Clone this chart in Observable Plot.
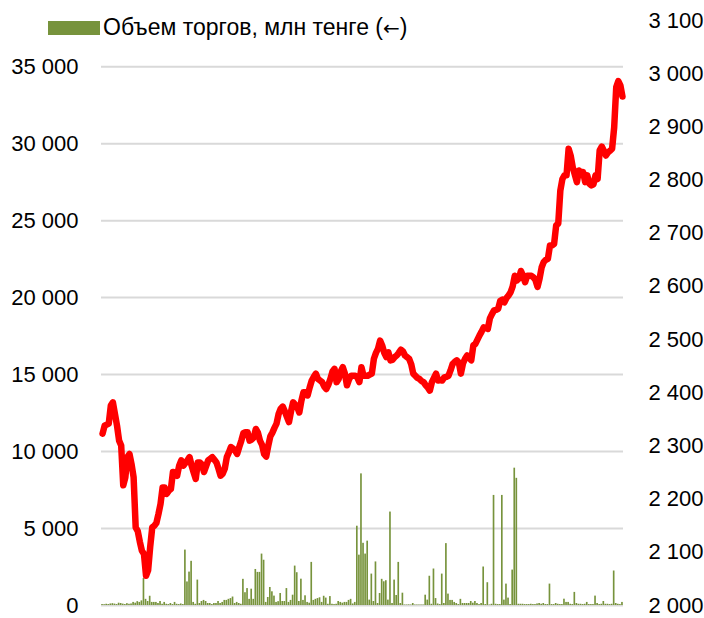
<!DOCTYPE html>
<html><head><meta charset="utf-8">
<script src="https://cdn.jsdelivr.net/npm/d3@7"></script>
<script src="https://cdn.jsdelivr.net/npm/@observablehq/plot@0.6"></script>
<style>
body{margin:0;background:#fff;}
#wrap{position:relative;width:704px;height:618px;font-family:"Liberation Sans",Arial,sans-serif;}
#legend{position:absolute;left:48px;top:14px;display:flex;align-items:center;font-size:23px;color:#000;white-space:nowrap;}
#legend .sw{display:inline-block;width:52px;height:14px;background:#77933c;margin-right:3px;}
#legend .arr{font-family:"DejaVu Sans",sans-serif;font-size:20px;}
</style></head><body>
<div id="wrap"><div id="legend"><span class="sw"></span><span>Объем торгов, млн тенге (<span class="arr">←</span>)</span></div></div>
<script>
// Trading volume, mln tenge (left axis), one bar per trading day
const volume = [
60,50,80,60,100,120,90,60,150,130,90,60,120,80,100,200,150,250,200,300,
1750,400,260,600,200,200,200,130,260,80,
200,80,60,130,60,200,80,60,100,60,
3600,1530,2170,2870,200,80,1650,130,260,330,
260,130,130,60,130,130,260,130,200,330,
330,400,450,550,130,200,130,80,1700,830,
1100,400,1060,400,2340,2150,2150,3340,2940,200,
520,1170,890,610,200,250,780,260,260,1100,
200,330,670,2560,2130,260,1710,330,630,200,
150,2800,330,400,450,500,200,600,480,80,
580,80,60,80,260,200,150,200,200,330,
400,100,200,5150,3270,8550,4040,3340,4180,350,
2040,260,2830,130,780,1700,1540,1610,350,6070,
130,1650,650,2800,130,800,30,30,40,30,
130,30,30,30,30,30,670,350,1900,80,
2370,450,100,60,2040,130,4020,740,330,330,
200,130,60,400,130,130,130,130,260,150,
260,130,60,130,2500,60,1480,30,80,7150,
80,60,60,7150,350,1390,480,60,2300,8920,
8260,80,80,80,60,60,60,80,60,60,
100,130,80,130,60,60,1390,60,60,130,
80,60,60,410,200,200,80,60,850,130,
80,80,60,80,200,60,60,60,610,130,
60,80,260,80,80,60,80,2240,130,80,
60,200
];
// Index value (right axis), same trading days
const indexValues = [
2323,2338,2340,2342,2376,2382,2360,2338,2310,2301,
2226,2241,2279,2285,2266,2241,2147,2140,2120,2103,
2097,2056,2066,2110,2147,2150,2155,2172,2191,2222,
2222,2210,2216,2219,2251,2250,2244,2263,2273,2263,
2268,2273,2279,2263,2250,2238,2269,2269,2265,2251,
2262,2273,2276,2279,2274,2269,2257,2244,2248,2257,
2279,2288,2298,2295,2291,2285,2298,2310,2324,2326,
2326,2310,2312,2316,2332,2325,2310,2302,2285,2280,
2300,2318,2325,2334,2342,2360,2370,2374,2365,2355,
2345,2365,2382,2378,2373,2363,2385,2401,2401,2395,
2410,2423,2430,2436,2426,2423,2420,2412,2407,2415,
2426,2440,2445,2420,2426,2440,2448,2436,2414,2425,
2432,2432,2432,2429,2420,2448,2432,2432,2432,2434,
2436,2464,2475,2483,2498,2489,2475,2467,2476,2461,
2462,2467,2470,2475,2481,2478,2470,2467,2464,2454,
2436,2432,2428,2426,2422,2420,2414,2410,2404,2420,
2428,2436,2423,2424,2423,2429,2430,2432,2442,2454,
2458,2461,2457,2436,2455,2464,2470,2466,2461,2489,
2492,2500,2508,2515,2523,2522,2520,2540,2548,2555,
2556,2558,2573,2575,2570,2578,2583,2589,2600,2620,
2611,2615,2629,2620,2608,2620,2620,2620,2617,2612,
2599,2615,2636,2646,2650,2652,2677,2677,2680,2715,
2718,2780,2802,2809,2809,2859,2846,2824,2810,2796,
2818,2815,2815,2796,2809,2793,2790,2792,2809,2802,
2856,2863,2855,2846,2852,2855,2859,2899,2975,2986,
2978,2957
];
const leftTicks = [0,5000,10000,15000,20000,25000,30000,35000];
const rightTicks = [2000,2100,2200,2300,2400,2500,2600,2700,2800,2900,3000,3100];

const volumeData = volume.map((v, i) => ({i, v}));
const indexData = indexValues.map((v, i) => ({i, v}));
const rs = d3.scaleLinear([2000, 3100], [0, 38000]);
const fmt = d => d3.format(",")(d).replace(/,/g, " ");
const FONT = '"Liberation Sans", Arial, sans-serif';

const chart = Plot.plot({
  width: 704, height: 618,
  marginLeft: 101, marginRight: 81, marginTop: 20, marginBottom: 13,
  x: {domain: [-0.5, volume.length - 0.5], axis: null},
  y: {domain: [0, 38000], axis: null, label: null},
  style: {fontFamily: FONT, fontSize: "22px", color: "#000", background: "transparent"},
  marks: [
    Plot.ruleY(leftTicks, {stroke: "#d9d9d9", strokeWidth: 2}),
    Plot.rectY(volumeData, {x1: d => d.i - 0.4, x2: d => d.i + 0.4, y1: 0, y2: "v", fill: "#77933c"}),
    Plot.line(indexData, {x: "i", y: d => rs(d.v), stroke: "#ff0000", strokeWidth: 6.5, strokeLinejoin: "round", strokeLinecap: "round"}),
    Plot.axisY(leftTicks, {anchor: "left", tickSize: 0, tickPadding: 23, tickFormat: fmt, fontSize: 22, label: null}),
    Plot.axisY(rightTicks.map(rs), {anchor: "right", tickSize: 0, tickPadding: 25, tickFormat: d => fmt(Math.round(rs.invert(d))), fontSize: 22, label: null})
  ]
});
document.getElementById("wrap").prepend(chart);
chart.style.position = "absolute"; chart.style.left = "0"; chart.style.top = "0";
</script>
</body></html>
